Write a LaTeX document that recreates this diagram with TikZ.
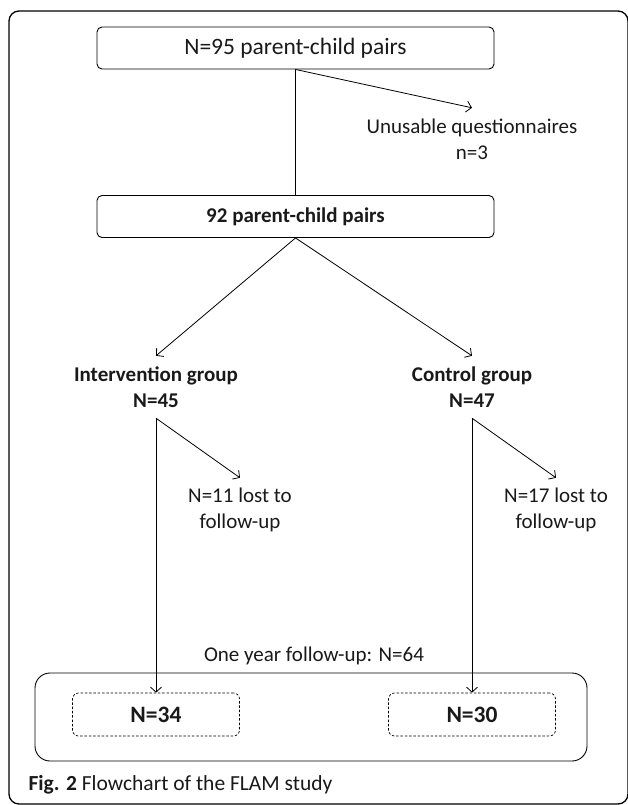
\documentclass[tikz,border=0pt]{standalone}
\usepackage{fontspec}
\setmainfont{Carlito}
\usetikzlibrary{arrows.meta}

\begin{document}
\begin{tikzpicture}[>={Straight Barb[length=5pt,width=11pt]}, x=1pt, y=-1pt,
    every node/.style={font=\fontsize{21}{26}\selectfont, text=black!90},
    big/.style={font=\fontsize{23.5}{26}\selectfont},
    bold/.style={font=\fontsize{21}{25.5}\selectfont\bfseries},
    box/.style={draw, rounded corners=5pt, minimum width=397pt, minimum height=42pt, line width=0.9pt},
    dbox/.style={draw, dash pattern=on 2.5pt off 1.8pt, rounded corners=6pt, minimum width=167pt, minimum height=43pt, line width=0.7pt, font=\fontsize{23.5}{26}\selectfont\bfseries},
    lbl/.style={align=center, inner sep=0pt},
    edge/.style={line width=0.8pt}]
    \useasboundingbox (0,0) rectangle (627,805);

    % Outer frame
    \draw[line width=1.3pt, rounded corners=10pt] (9,11) rectangle (628,804);

    % Nodes
    \node[box, big] (all) at (295.5,48) {N=95 parent-child pairs};
    \node[box, bold] (pairs) at (295.5,216.5) {92 parent-child pairs};
    \node[lbl, minimum height=62pt] (unus) at (472,139) {Unusable questionnaires\\n=3};
    \node[lbl, bold, minimum height=62pt] (iv) at (156,387) {Intervention group\\N=45};
    \node[lbl, bold, minimum height=62pt] (cg) at (472,387) {Control group\\N=47};
    \node[lbl, minimum height=64pt] (lost1) at (240,510) {N=11 lost to\\follow-up};
    \node[lbl, minimum height=64pt] (lost2) at (556,510) {N=17 lost to\\follow-up};

    % One year follow-up
    \node (fu) at (314,656) {One year follow-up: N=64};
    \node[draw, rounded corners=15pt, line width=0.9pt, minimum width=552pt, minimum height=88pt] (fubox) at (311,717) {};
    \node[dbox] (ivn) at (156,714.5) {N=34};
    \node[dbox] (cgn) at (472,714.5) {N=30};

    \node[anchor=west, font=\fontsize{21.5}{24}\selectfont] (cap) at (25,785) {\textbf{Fig. 2} Flowchart of the FLAM study};

    % Edges
    \draw[edge] (all.south) -- (pairs.north);
    \draw[edge, ->] (all.south) -- (unus.north);
    \draw[edge, ->] (pairs.south) -- (iv.north);
    \draw[edge, ->] (pairs.south) -- (cg.north);
    \draw[edge, ->] (iv.south) -- (lost1.north);
    \draw[edge, ->] (cg.south) -- (lost2.north);
    \draw[edge, ->] (iv.south) -- (ivn.north);
    \draw[edge, ->] (cg.south) -- (cgn.north);
\end{tikzpicture}
\end{document}
